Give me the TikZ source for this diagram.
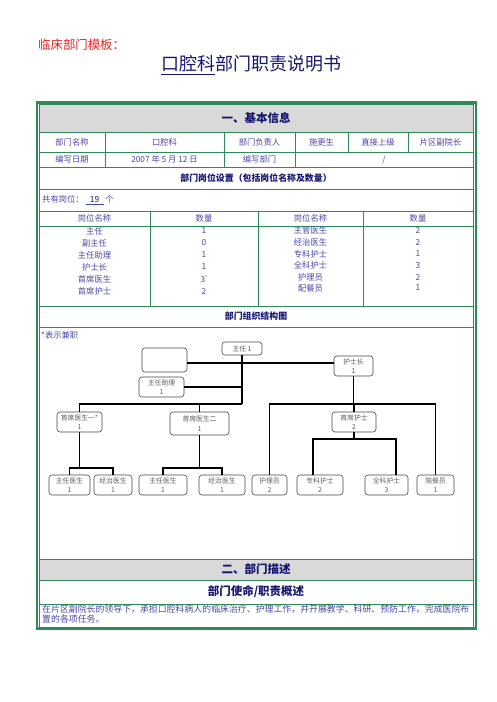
\documentclass[tikz,border=0pt]{standalone}
\usepackage{fontspec}
\setmainfont{Noto Sans CJK SC}
\definecolor{frame}{RGB}{46,139,87}
\definecolor{band}{RGB}{217,217,217}
\definecolor{navy}{RGB}{22,22,112}
\definecolor{tabtext}{RGB}{72,72,165}
\definecolor{boxline}{RGB}{70,70,70}
\definecolor{boxtext}{RGB}{95,95,95}
\definecolor{tred}{RGB}{240,30,30}

\begin{document}
\begin{tikzpicture}[x=1pt,y=-1pt,
  cell/.style={font=\fontsize{8.3}{10}\selectfont, text=tabtext, inner sep=0pt},
  hdr/.style={font=\fontsize{11.5}{13}\selectfont\bfseries, text=navy, inner sep=0pt},
  subhdr/.style={font=\fontsize{8.9}{11}\selectfont\bfseries, text=navy, inner sep=0pt},
  orgbox/.style={draw=boxline, rounded corners=3pt, fill=white, line width=0.6pt,
    font=\fontsize{6.8}{9.5}\selectfont, text=boxtext, align=center, inner sep=0pt,
    minimum height=20pt},
  grid/.style={frame, line width=0.8pt},
  link/.style={line width=1.6pt, black}]
\useasboundingbox (0,0) rectangle (496,702);

% title lines
\node[anchor=west, inner sep=0pt, text=tred, font=\fontsize{12.4}{14}\selectfont] (tmpl) at (38,45) {临床部门模板：};
\node[inner sep=0pt, text=navy, font=\fontsize{18}{20}\selectfont] (title) at (251,65) {\underline{口腔科}部门职责说明书};

% grey bands
\fill[band] (39.5,104) rectangle (473.5,132);
\fill[band] (39.5,559) rectangle (473.5,580);

% table grid
\foreach \yy in {132,152,167,189,211,226,306,327,559,580,604}
  \draw[grid] (39.5,\yy) -- (473.5,\yy);
\foreach \xx in {105,224,295,348,408}
  \draw[grid] (\xx,132) -- (\xx,152);
\foreach \xx in {105,224,295}
  \draw[grid] (\xx,152) -- (\xx,167);
\foreach \xx in {150,258,363}
  \draw[grid] (\xx,211) -- (\xx,306);
\draw[grid] (39.5,104) rectangle (473.5,627);
\draw[frame, line width=2.5pt] (37,102.5) rectangle (476,628.5);

% section one
\node[hdr] (sec1) at (256,118) {一、基本信息};
\node[cell] (k1) at (72,142) {部门名称};
\node[cell] (v1) at (164.5,142) {口腔科};
\node[cell] (k2) at (259.5,142) {部门负责人};
\node[cell] (v2) at (321.5,142) {施更生};
\node[cell] (k3) at (378,142) {直接上级};
\node[cell] (v3) at (440.5,142) {片区副院长};
\node[cell] (k4) at (72,159.5) {编写日期};
\node[cell] (v4) at (164.5,159.5) {2007 年 5 月 12 日};
\node[cell] (k5) at (259.5,159.5) {编写部门};
\node[cell] (v5) at (384,159.5) {/};
\node[subhdr] (posts) at (256,178) {部门岗位设置（包括岗位名称及数量）};
\node[cell, anchor=west] (total) at (42,200) {共有岗位：\ \underline{\hbox to 18pt{\hss\color{navy}19\hss}}\ 个};

\node[cell] (h1) at (94.5,218.5) {岗位名称};
\node[cell] (h2) at (204,218.5) {数量};
\node[cell] (h3) at (310.5,218.5) {岗位名称};
\node[cell] (h4) at (418,218.5) {数量};
\foreach \nm/\nn/\yy [count=\i] in {主任/1/231, 副主任/0/243, 主任助理/1/255,
    护士长/1/267, 首席医生/3\raisebox{3pt}{\tiny *}/279, 首席护士/2/291} {
  \node[cell] (pa\i) at (94.5,\yy) {\nm};
  \node[cell] (na\i) at (204,\yy) {\nn};
}
\foreach \nm/\nn/\yy [count=\i] in {主管医生/2/230, 经治医生/2/242, 专科护士/1/254,
    全科护士/3/265.5, 护理员/2/277, 配餐员/1/288} {
  \node[cell] (pb\i) at (310.5,\yy) {\nm};
  \node[cell] (nb\i) at (418,\yy) {\nn};
}

\node[subhdr] (orgttl) at (256,316.5) {部门组织结构图};
\node[cell, anchor=west] (note) at (41,335) {*表示兼职};

% org chart
\coordinate (j0) at (242,404);
\coordinate (j1) at (353.5,404);
\coordinate (b1) at (79.5,468);
\coordinate (b2) at (199.5,468);
\coordinate (b3) at (354,439);

\node[orgbox, minimum width=40pt, minimum height=13pt] (zr) at (242,348.5) {主任 1};
\node[orgbox, minimum width=45pt, minimum height=24pt] (blank) at (164.5,360) {};
\node[orgbox, minimum width=39pt] (hsz) at (353.5,366) {护士长\\1};
\node[orgbox, minimum width=45pt] (zrzl) at (161.5,387) {主任助理\\1};
\node[orgbox, minimum width=45pt] (sx1) at (79.5,422) {首席医生一*\\1};
\node[orgbox, minimum width=59pt, minimum height=23pt] (sx2) at (199.5,423.5) {首席医生二\\1};
\node[orgbox, minimum width=44pt] (sh) at (354,422) {首席护士\\2};
\node[orgbox, minimum width=41pt] (zy1) at (69.5,485) {主任医生\\1};
\node[orgbox, minimum width=38pt] (jz1) at (113,485) {经治医生\\1};
\node[orgbox, minimum width=48pt] (zy2) at (163,485) {主任医生\\1};
\node[orgbox, minimum width=46pt] (jz2) at (222,485) {经治医生\\1};
\node[orgbox, minimum width=35pt] (hly) at (269.5,485) {护理员\\2};
\node[orgbox, minimum width=46pt] (zk) at (320,485) {专科护士\\2};
\node[orgbox, minimum width=43pt] (qk) at (386.5,485) {全科护士\\3};
\node[orgbox, minimum width=37pt] (pc) at (435.5,485) {陪餐员\\1};

\draw[link] (zr) -- (j0);
\draw[link] ([yshift=-3pt]blank.east) -- ([yshift=-3pt]blank.east -| hsz.west);
\draw[link] (zrzl.east) -- (zrzl.east -| zr.south);
\draw[link] (sx1.north) |- (j0);
\draw[link] (sx2.north) -- (sx2.north |- j0);
\draw[link] (hsz) -- (j1);
\draw[link] (hly.north) |- (j1) -| (pc.north);
\draw[link] (sh.north) -- (sh.north |- j1);
\draw[link] (sx1) -- (b1);
\draw[link] (zy1.north) |- (b1) -| (jz1.north);
\draw[link] (sx2) -- (b2);
\draw[link] (zy2.north) |- (b2) -| (jz2.north);
\draw[link] (sh) -- (b3);
\draw[link] ([xshift=-7pt]zk.north) |- (b3) -| ([xshift=9.5pt]qk.north);

% section two
\node[hdr] (sec2) at (256,569.5) {二、部门描述};
\node[hdr] (mission) at (256,592) {部门使命/职责概述};
\node[cell, anchor=north west, align=left, font=\fontsize{8.9}{10}\selectfont] (desc) at (42,605)
  {在片区副院长的领导下，承担口腔科病人的临床治疗、护理工作，并开展教学、科研、预防工作，完成医院布\\置的各项任务。};
\end{tikzpicture}
\end{document}
